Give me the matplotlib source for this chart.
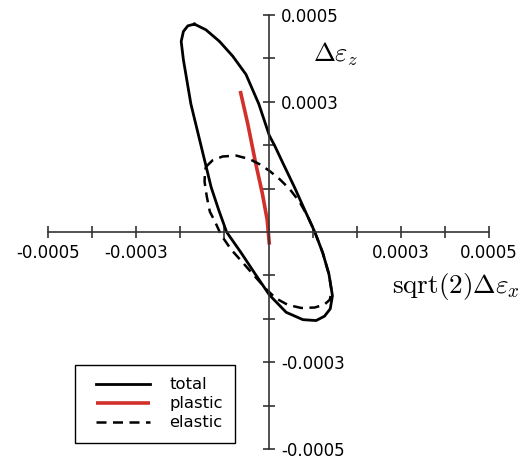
import numpy as np
import matplotlib
matplotlib.use("Agg")
from matplotlib import pyplot as plt
from matplotlib.legend_handler import HandlerLine2D
from matplotlib.lines import Line2D
from matplotlib.ticker import FixedLocator, FuncFormatter

# strain loops, values in units of 1e-4
total_x = [-1.68, -1.42, -1.11, -0.81, -0.51, -0.22, 0.02, 0.14, 0.33, 0.59, 0.82, 1.05,
           1.23, 1.37, 1.45, 1.40, 1.27, 1.08, 0.78, 0.40, 0.02, -0.30, -0.62, -0.95,
           -1.13, -1.30, -1.53, -1.76, -1.93, -1.98, -1.93, -1.83, -1.68]
total_z = [4.79, 4.66, 4.39, 4.05, 3.63, 2.95, 2.22, 1.99, 1.58, 1.03, 0.51, 0.00,
           -0.48, -0.97, -1.47, -1.77, -1.94, -2.04, -2.02, -1.85, -1.45, -0.97, -0.48, 0.00,
           0.51, 1.03, 1.99, 2.95, 3.97, 4.39, 4.62, 4.75, 4.79]

plastic_x = [-0.64, -0.47, -0.29, -0.14, -0.03, 0.02]
plastic_z = [3.25, 2.49, 1.58, 0.89, 0.28, -0.29]

elastic_x = [-1.42, -1.27, -1.04, -0.73, -0.43, -0.20, 0.02, 0.25, 0.48, 0.70, 0.89, 1.05,
             1.23, 1.37, 1.43, 1.39, 1.27, 1.05, 0.74, 0.44, 0.17, -0.05, -0.32, -0.58,
             -0.85, -1.08, -1.20, -1.33, -1.40, -1.45, -1.44, -1.42]
elastic_z = [1.50, 1.65, 1.74, 1.76, 1.68, 1.56, 1.41, 1.22, 0.99, 0.70, 0.36, 0.00,
             -0.48, -0.97, -1.35, -1.56, -1.67, -1.74, -1.75, -1.68, -1.53, -1.32, -1.01, -0.71,
             -0.40, -0.06, 0.21, 0.47, 0.82, 1.16, 1.39, 1.50]

tick_values = [-5, -4, -3, -2, -1, 1, 2, 3, 4, 5]
labelled = [-5, -3, 3, 5]

scale = 1e-4
plt.rcParams["axes.unicode_minus"] = False
plt.rcParams["mathtext.fontset"] = "cm"

fig = plt.figure(figsize=(5.24, 4.59), dpi=100)
ax = fig.add_axes([48 / 524, 10 / 459, 441 / 524, 434 / 459])
ax.set_xlim(-5 * scale, 5 * scale)
ax.set_ylim(-5 * scale, 5 * scale)

ax.plot(np.array(total_x) * scale, np.array(total_z) * scale, color="black", lw=2.0,
        label="total", solid_joinstyle="round")
ax.plot(np.array(plastic_x) * scale, np.array(plastic_z) * scale, color="#d2302a", lw=2.6,
        label="plastic", solid_capstyle="butt", solid_joinstyle="round")
ax.plot(np.array(elastic_x) * scale, np.array(elastic_z) * scale, color="black", lw=1.8,
        ls=(0, (4, 2.6)), label="elastic")

for side in ["top", "right"]:
    ax.spines[side].set_visible(False)
for side in ["left", "bottom"]:
    ax.spines[side].set_position(("data", 0))
    ax.spines[side].set_color("#333333")
    ax.spines[side].set_linewidth(1.2)
ax.patch.set_visible(False)

ticks = [v * scale for v in tick_values]
fmt = FuncFormatter(lambda v, p: f"{v:.4f}" if round(v / scale) in labelled else "")
for axis in [ax.xaxis, ax.yaxis]:
    axis.set_major_locator(FixedLocator(ticks))
    axis.set_major_formatter(fmt)
ax.tick_params(direction="inout", length=8, width=1.2, color="#333333", labelsize=12,
               labelcolor="black")
ax.tick_params(axis="x", pad=5)
ax.tick_params(axis="y", pad=-13)
for lab in ax.get_yticklabels():
    lab.set_horizontalalignment("left")

fig.text(313 / 524, 1 - 62 / 459, r"$\Delta\varepsilon_z$", fontsize=19, va="baseline")
fig.text(392 / 524, 1 - 293 / 459, r"$\mathrm{sqrt(2)}\Delta\varepsilon_x$", fontsize=19.5,
         va="baseline")

handler = HandlerLine2D(xpad=0.55)
leg = fig.legend(loc="upper left", bbox_to_anchor=(75 / 524, 1 - 365 / 459), borderaxespad=0,
                 fontsize=11.8, handlelength=3.85, handletextpad=1.15, labelspacing=0.25,
                 fancybox=False, edgecolor="black", framealpha=1, borderpad=0.75,
                 handler_map={Line2D: handler})
leg.get_frame().set_linewidth(1.0)

fig.savefig("out.png", dpi=100)
